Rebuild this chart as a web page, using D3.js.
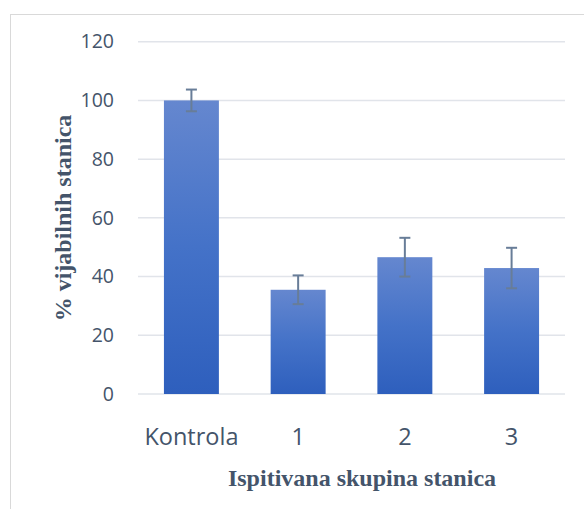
<!DOCTYPE html>
<html>
<head>
<meta charset="utf-8">
<title>% vijabilnih stanica</title>
<script src="https://d3js.org/d3.v7.min.js"></script>
<style>
  body { margin: 0; background: #fff; }
</style>
</head>
<body>
<script>
var categories = ["Kontrola", "1", "2", "3"];
var values = [100, 35.5, 46.6, 42.9];
var errors = [3.7, 4.9, 6.6, 6.9];
var yTicks = [0, 20, 40, 60, 80, 100, 120];

var w = 584, h = 509;
var plotLeft = 138, plotRight = 565, plotTop = 41.7, plotBottom = 394;

var svg = d3.select("body").append("svg")
    .attr("width", w)
    .attr("height", h);

// chart frame
svg.append("rect")
    .attr("x", 10.5).attr("y", 14.5)
    .attr("width", 700).attr("height", 700)
    .attr("fill", "none")
    .attr("stroke", "#d9d9d9");

var grad = svg.append("defs").append("linearGradient")
    .attr("id", "barGrad")
    .attr("x1", 0).attr("y1", 0).attr("x2", 0).attr("y2", 1);
grad.append("stop").attr("offset", "0%").attr("stop-color", "#6587cf");
grad.append("stop").attr("offset", "50%").attr("stop-color", "#4472c8");
grad.append("stop").attr("offset", "100%").attr("stop-color", "#2e5fbd");

var x = d3.scaleBand().domain(categories).range([plotLeft, plotRight]).paddingInner(0.485).paddingOuter(0.243);
var y = d3.scaleLinear().domain([0, 120]).range([plotBottom, plotTop]);

// gridlines
svg.append("g")
    .selectAll("line")
    .data(yTicks)
    .enter()
    .append("line")
    .attr("x1", plotLeft).attr("x2", plotRight)
    .attr("y1", function(d) { return y(d); })
    .attr("y2", function(d) { return y(d); })
    .attr("stroke", "#e1e4ea")
    .attr("stroke-width", 1.5);

// y tick labels
var yAxis = svg.append("g")
    .attr("transform", "translate(114,0)")
    .call(d3.axisLeft(y).tickValues(yTicks).tickSize(0).tickPadding(0));
yAxis.select(".domain").remove();
yAxis.selectAll("text")
    .attr("font-family", "'Open Sans', sans-serif")
    .attr("font-size", 19.5)
    .attr("fill", "#44546a");

// bars
svg.selectAll("rect.bar")
    .data(values)
    .enter()
    .append("rect")
    .attr("class", "bar")
    .attr("x", function(d, i) { return x(categories[i]); })
    .attr("y", function(d) { return y(d); })
    .attr("width", x.bandwidth())
    .attr("height", function(d) { return y(0) - y(d); })
    .attr("fill", "url(#barGrad)");

// error bars
var eb = svg.append("g")
    .attr("stroke", "#687d98")
    .attr("stroke-width", 2);
values.forEach(function(v, i) {
    var cx = x(categories[i]) + x.bandwidth() / 2;
    eb.append("line")
        .attr("x1", cx).attr("x2", cx)
        .attr("y1", y(v + errors[i])).attr("y2", y(v - errors[i]));
    [v + errors[i], v - errors[i]].forEach(function(e) {
        eb.append("line")
            .attr("x1", cx - 5.5).attr("x2", cx + 5.5)
            .attr("y1", y(e)).attr("y2", y(e));
    });
});

// x tick labels
var xAxis = svg.append("g")
    .attr("transform", "translate(0,445)")
    .call(d3.axisBottom(x).tickSize(0).tickPadding(0));
xAxis.select(".domain").remove();
xAxis.selectAll("text")
    .attr("dy", 0)
    .attr("font-family", "'Open Sans', sans-serif")
    .attr("font-size", 23.5)
    .attr("fill", "#44546a");

// axis titles
svg.append("text")
    .attr("x", 362)
    .attr("y", 486)
    .attr("text-anchor", "middle")
    .attr("font-family", "'Liberation Serif', 'Times New Roman', serif")
    .attr("font-weight", "bold")
    .attr("font-size", 24)
    .attr("fill", "#44546a")
    .text("Ispitivana skupina stanica");

svg.append("text")
    .attr("transform", "translate(71,218) rotate(-90)")
    .attr("text-anchor", "middle")
    .attr("font-family", "'Liberation Serif', 'Times New Roman', serif")
    .attr("font-weight", "bold")
    .attr("font-size", 24)
    .attr("fill", "#44546a")
    .text("% vijabilnih stanica");
</script>
</body>
</html>
